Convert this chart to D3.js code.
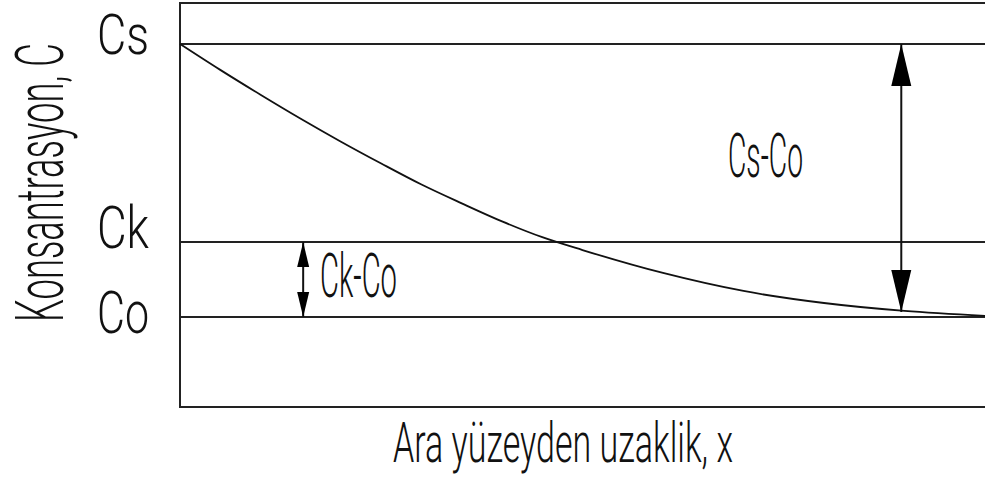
<!DOCTYPE html>
<html>
<head>
<meta charset="utf-8">
<script src="https://cdn.jsdelivr.net/npm/d3@7"></script>
<style>
  html, body { margin: 0; padding: 0; background: #fff; }
  svg { display: block; }
  text { font-family: Roboto, "DejaVu Sans", sans-serif; font-weight: 300; fill: #111; }
</style>
</head>
<body>
<svg id="chart" width="985" height="487"></svg>
<script>
// Concentration profile: distance from the interface (relative) vs concentration (Co = 0, Cs = 1)
const distance = [0, 0.05, 0.10, 0.15, 0.20, 0.25, 0.30, 0.35, 0.40, 0.45, 0.50, 0.60, 0.70, 0.80, 0.90, 1.00];
const concentration = [1.000, 0.905, 0.814, 0.726, 0.642, 0.562, 0.485, 0.416, 0.350, 0.292, 0.245, 0.161, 0.095, 0.051, 0.022, 0.004];

// Reference levels
const levelLabels = ["Cs", "Ck", "Co"];
const levelValues = [1.0, 0.274, 0.0];

// Dimension arrows: label, position along x, start and end concentration
const arrowLabels = ["Cs-Co", "Ck-Co"];
const arrowDistance = [0.896, 0.153];
const arrowFrom = [1.0, 0.274];
const arrowTo = [0.018, 0.0];

const xTitle = "Ara yüzeyden uzaklik, x";
const yTitle = "Konsantrasyon, C";

const svg = d3.select("#chart");
const W = 985, H = 487;
const plot = { left: 180, top: 3, bottom: 407 };

const x = d3.scaleLinear().domain([0, 1]).range([plot.left, W]);
const y = d3.scaleLinear().domain([-0.33, 1.15]).range([plot.bottom, plot.top]);

svg.append("rect").attr("width", W).attr("height", H).attr("fill", "#fff");

// Frame: left, top and bottom edges (the right side runs off the drawing)
svg.append("path")
  .attr("d", `M${W + 5},${plot.top}H${plot.left}V${plot.bottom}H${W + 5}`)
  .attr("stroke", "#222").attr("stroke-width", 2).attr("fill", "none");

// Level lines
svg.append("g").selectAll("line").data(levelValues).join("line")
  .attr("x1", plot.left).attr("x2", W + 5)
  .attr("y1", d => y(d)).attr("y2", d => y(d))
  .attr("stroke", "#222").attr("stroke-width", 2);

// Profile curve
const line = d3.line().x((d, i) => x(distance[i])).y(d => y(d)).curve(d3.curveMonotoneX);
svg.append("path").datum(concentration)
  .attr("d", line)
  .attr("fill", "none").attr("stroke", "#111").attr("stroke-width", 1.8);

// Double-headed dimension arrows
const headSize = [{ len: 42, half: 10 }, { len: 25, half: 6 }];
arrowLabels.forEach((lab, i) => {
  const ax = x(arrowDistance[i]);
  const y1 = y(arrowFrom[i]), y2 = y(arrowTo[i]);
  const h = headSize[i];
  const g = svg.append("g");
  g.append("line").attr("x1", ax).attr("x2", ax).attr("y1", y1).attr("y2", y2)
    .attr("stroke", "#111").attr("stroke-width", 2);
  g.append("path").attr("fill", "#000")
    .attr("d", `M${ax},${y1}L${ax - h.half},${y1 + h.len}L${ax + h.half},${y1 + h.len}Z`);
  g.append("path").attr("fill", "#000")
    .attr("d", `M${ax},${y2}L${ax - h.half},${y2 - h.len}L${ax + h.half},${y2 - h.len}Z`);
});

// Condensed lettering: place text at (tx, ty) and squeeze it to the given width
function narrowText(str, tx, ty, size, width, rotate) {
  const t = svg.append("text").attr("font-size", size).text(str);
  const natural = t.node().getComputedTextLength();
  const sx = width / natural;
  t.attr("transform", `translate(${tx},${ty})${rotate ? ` rotate(${rotate})` : ""} scale(${sx},1)`);
  return t;
}

// Level labels on the left
const levelDy = [10, 6, 16];
const levelSize = [56, 60, 60];
levelLabels.forEach((lab, i) => narrowText(lab, 97, y(levelValues[i]) + levelDy[i], levelSize[i], 52));

// Arrow labels
const arrowLabelPos = [{ x: 728, y: 177, w: 75 }, { x: 320, y: 297, w: 77 }];
arrowLabels.forEach((lab, i) => narrowText(lab, arrowLabelPos[i].x, arrowLabelPos[i].y, 62, arrowLabelPos[i].w));

// Axis titles
narrowText(xTitle, 393, 462, 55, 340);
narrowText(yTitle, 63, 322, 66, 279, -90);
</script>
</body>
</html>
